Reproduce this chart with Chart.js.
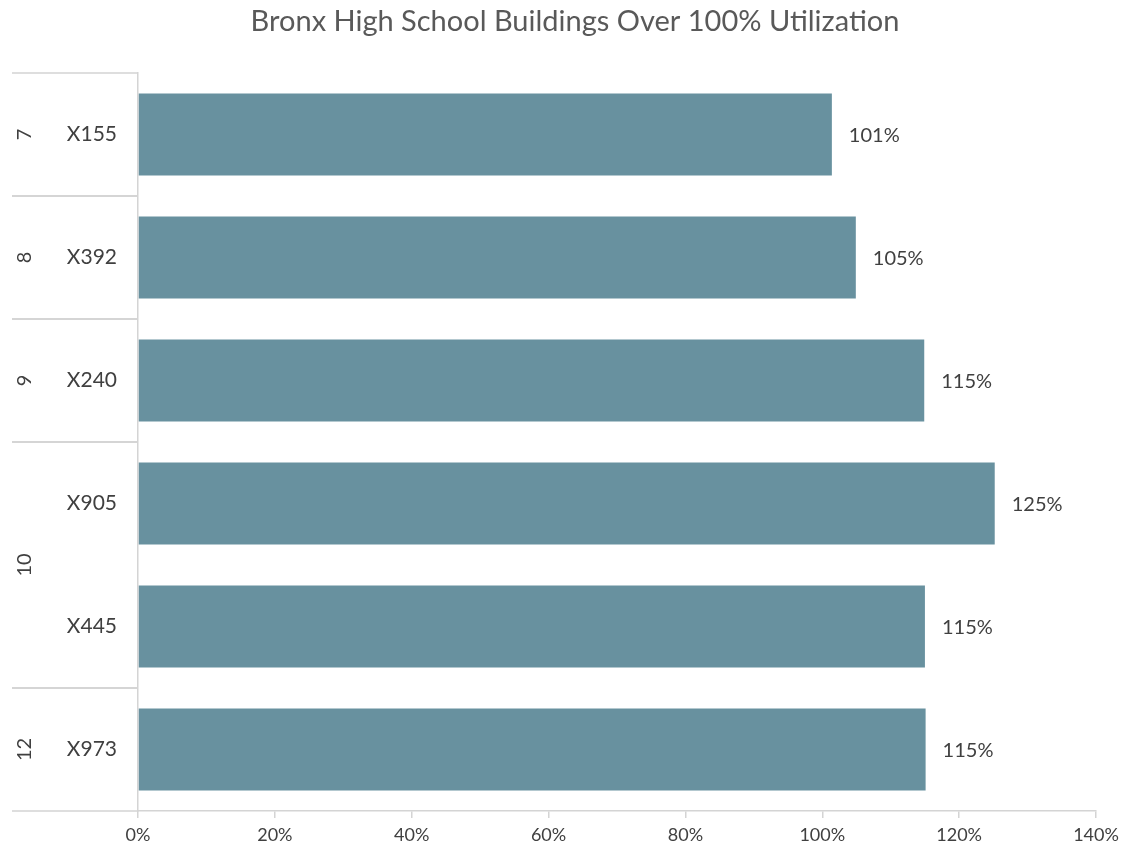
<!DOCTYPE html>
<html>
<head>
<meta charset="utf-8">
<script src="https://cdn.jsdelivr.net/npm/chart.js@4/dist/chart.umd.min.js"></script>
<style>
html,body{margin:0;padding:0;background:#fff;}
#wrap{width:1129px;height:855px;position:relative;}
</style>
</head>
<body>
<div id="wrap"><canvas id="c" width="1129" height="855"></canvas></div>
<script>
const titleText = "Bronx High School Buildings Over 100% Utilization";
const buildings = ["X155", "X392", "X240", "X905", "X445", "X973"];
const districts = ["7", "8", "9", "10", "10", "12"];
const utilization = [101.4, 104.9, 114.9, 125.2, 115.0, 115.1];
const xTicks = [0, 20, 40, 60, 80, 100, 120, 140];

const FONT = "Lato, 'Open Sans', sans-serif";
const TEXT = "#404040";
const LINE = "#d4d4d4";

const extras = {
  id: 'extras',
  afterDraw(chart) {
    const ctx = chart.ctx;
    const ys = chart.scales.y;
    const area = chart.chartArea;
    const leftX = 12;
    ctx.save();
    // title
    ctx.fillStyle = "#595959";
    ctx.font = "29px " + FONT;
    ctx.textAlign = "center";
    ctx.textBaseline = "middle";
    ctx.fillText(titleText, 575, 22);

    // group separators + labels
    const half = (ys.getPixelForValue(1) - ys.getPixelForValue(0)) / 2;
    ctx.strokeStyle = LINE;
    ctx.lineWidth = 1.5;
    let start = 0;
    const groups = [];
    for (let i = 1; i <= districts.length; i++) {
      if (i === districts.length || districts[i] !== districts[start]) {
        groups.push([start, i - 1]);
        start = i;
      }
    }
    groups.forEach(([a, b]) => {
      const top = ys.getPixelForValue(a) - half;
      const bot = ys.getPixelForValue(b) + half;
      ctx.beginPath();
      ctx.moveTo(leftX, top); ctx.lineTo(area.left, top);
      ctx.moveTo(leftX, bot); ctx.lineTo(area.left, bot);
      ctx.stroke();
      const cy = (top + bot) / 2;
      ctx.save();
      ctx.translate(25, cy);
      ctx.rotate(-Math.PI / 2);
      ctx.fillStyle = TEXT;
      ctx.font = "20px " + FONT;
      ctx.textAlign = "center";
      ctx.textBaseline = "middle";
      ctx.fillText(districts[a], 0, 0);
      ctx.restore();
    });

    // value labels
    const meta = chart.getDatasetMeta(0);
    ctx.fillStyle = TEXT;
    ctx.font = "20px " + FONT;
    ctx.textAlign = "left";
    ctx.textBaseline = "middle";
    meta.data.forEach((bar, i) => {
      ctx.fillText(Math.round(utilization[i]) + "%", bar.x + 17, bar.y + 1);
    });
    ctx.restore();
  }
};

new Chart(document.getElementById('c'), {
  type: 'bar',
  data: {
    labels: buildings,
    datasets: [{
      data: utilization,
      backgroundColor: "#68919f",
      borderWidth: 0,
      categoryPercentage: 1,
      barPercentage: 0.667
    }]
  },
  options: {
    indexAxis: 'y',
    responsive: false,
    animation: false,
    devicePixelRatio: 1,
    layout: { padding: { left: 12, right: 33, top: 73, bottom: 0 } },
    plugins: { legend: { display: false }, tooltip: { enabled: false }, title: { display: false } },
    scales: {
      x: {
        min: 0, max: 140,
        afterBuildTicks(scale) { scale.ticks = xTicks.map(v => ({ value: v })); },
        afterFit(scale) { scale.height = 44; },
        grid: { display: true, drawOnChartArea: false, drawTicks: true, tickLength: 7, color: LINE, lineWidth: 1.5 },
        border: { display: true, color: LINE, width: 1.5 },
        ticks: {
          callback: v => v + "%",
          color: TEXT,
          font: { family: FONT, size: 18 },
          padding: 6,
          maxRotation: 0
        }
      },
      y: {
        afterFit(scale) { scale.width = 126; },
        grid: { display: false },
        border: { display: true, color: LINE, width: 1.5 },
        ticks: {
          color: TEXT,
          font: { family: FONT, size: 21 },
          padding: 13
        }
      }
    }
  },
  plugins: [extras]
});
</script>
</body>
</html>
